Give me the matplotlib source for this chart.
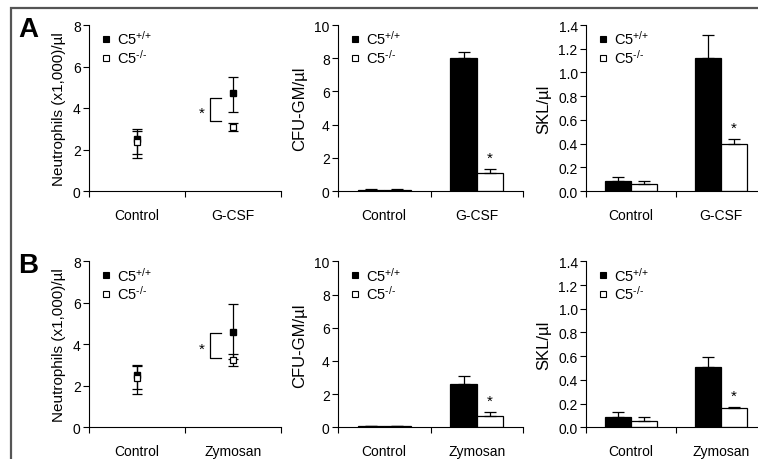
import numpy as np
import matplotlib
matplotlib.use('Agg')
import matplotlib.pyplot as plt
from matplotlib.lines import Line2D
from matplotlib.patches import Rectangle

plt.rcParams['font.family'] = ['Liberation Sans', 'DejaVu Sans']
plt.rcParams['mathtext.fontset'] = 'custom'
plt.rcParams['mathtext.rm'] = 'Liberation Sans'
plt.rcParams['mathtext.default'] = 'regular'

# ---- data ----
groups_a = ['Control', 'G-CSF']
groups_b = ['Control', 'Zymosan']
legend_labels = [r'C5$^{\text{+/+}}$', r'C5$^{\text{-/-}}$']

# neutrophils (x1,000)/ul, mean with lower / upper error
neut_a_wt = [2.5, 4.7]
neut_a_wt_lo = [0.9, 0.88]
neut_a_wt_hi = [0.5, 0.8]
neut_a_ko = [2.35, 3.1]
neut_a_ko_lo = [0.57, 0.2]
neut_a_ko_hi = [0.55, 0.2]
neut_a_bracket = [4.5, 3.35]

neut_b_wt = [2.5, 4.6]
neut_b_wt_lo = [0.9, 1.33]
neut_b_wt_hi = [0.5, 1.33]
neut_b_ko = [2.4, 3.25]
neut_b_ko_lo = [0.55, 0.3]
neut_b_ko_hi = [0.55, 0.3]
neut_b_bracket = [4.55, 3.35]

# CFU-GM/ul
cfu_a_wt = [0.08, 8.0]
cfu_a_wt_err = [0.04, 0.35]
cfu_a_ko = [0.08, 1.08]
cfu_a_ko_err = [0.02, 0.25]
cfu_b_wt = [0.05, 2.6]
cfu_b_wt_err = [0.05, 0.48]
cfu_b_ko = [0.05, 0.7]
cfu_b_ko_err = [0.02, 0.2]

# SKL/ul
skl_a_wt = [0.082, 1.125]
skl_a_wt_err = [0.04, 0.19]
skl_a_ko = [0.059, 0.40]
skl_a_ko_err = [0.025, 0.035]
skl_b_wt = [0.09, 0.505]
skl_b_wt_err = [0.035, 0.09]
skl_b_ko = [0.056, 0.163]
skl_b_ko_err = [0.028, 0.005]

neut_ticks = [0, 2, 4, 6, 8]
cfu_ticks = [0, 2, 4, 6, 8, 10]
skl_ticks = [0.0, 0.2, 0.4, 0.6, 0.8, 1.0, 1.2, 1.4]

W, H = 758.0, 460.0
fig = plt.figure(figsize=(W / 100, H / 100), dpi=100)

# grey frame round the figure (cut at right and bottom)
fig.patches.append(Rectangle((10.5 / W, -0.1), 1.2, 1 - 9 / H + 0.1, transform=fig.transFigure,
                             fill=False, edgecolor='#555555', linewidth=1.6))


def add_ax(left, right, top, bottom):
    return fig.add_axes([left / W, 1 - bottom / H, (right - left) / W, (bottom - top) / H])


def style(ax, groups, ticks, fmt, ylabel, ylabel_size):
    for s in ['top', 'right']:
        ax.spines[s].set_visible(False)
    for s in ['left', 'bottom']:
        ax.spines[s].set_linewidth(0.8)
    ax.set_xlim(-0.5, 1.5)
    ax.set_ylim(ticks[0], ticks[-1])
    ax.set_yticks(ticks)
    ax.set_yticklabels([fmt.format(t) for t in ticks])
    ax.set_xticks([0, 1])
    ax.set_xticklabels(groups)
    ax.set_xticks([-0.5, 0.5, 1.5], minor=True)
    ax.tick_params(axis='x', which='major', length=0, pad=12, labelsize=10)
    ax.tick_params(axis='x', which='minor', length=4, width=0.8, direction='out')
    ax.tick_params(axis='y', length=4, width=0.8, direction='out', labelsize=10, pad=2)
    ax.set_ylabel(ylabel, fontsize=ylabel_size, labelpad=5)
    handles = [Line2D([], [], ls='none', marker='s', mfc='black', mec='black', ms=5, mew=0.8),
               Line2D([], [], ls='none', marker='s', mfc='white', mec='black', ms=5, mew=0.8)]
    ax.legend(handles, legend_labels, loc='upper left', bbox_to_anchor=(0.06, 0.975), frameon=False,
              fontsize=10.5, handlelength=0.8, handletextpad=0.35, labelspacing=0.05,
              borderpad=0, borderaxespad=0)


def neut_panel(ax, groups, wt, wt_lo, wt_hi, ko, ko_lo, ko_hi, bracket):
    x = np.arange(len(groups))
    ax.errorbar(x, wt, yerr=[wt_lo, wt_hi], fmt='s', mfc='black', mec='black', ms=5,
                ecolor='black', elinewidth=0.9, capsize=3.5, capthick=0.9)
    ax.errorbar(x, ko, yerr=[ko_lo, ko_hi], fmt='s', mfc='white', mec='black', ms=5, mew=0.9,
                ecolor='black', elinewidth=0.9, capsize=3.5, capthick=0.9)
    bx0, bx1 = x[1] - 0.24, x[1] - 0.13
    ax.plot([bx1, bx0, bx0, bx1], [bracket[0], bracket[0], bracket[1], bracket[1]],
            color='black', lw=0.9)
    ax.text(x[1] - 0.33, np.mean(bracket) - 0.15, '*', ha='center', va='center', fontsize=11)
    style(ax, groups, neut_ticks, '{:g}', 'Neutrophils (x1,000)/µl', 11)


def bar_panel(ax, groups, wt, wt_err, ko, ko_err, ticks, fmt, ylabel):
    x = np.arange(len(groups))
    w = 0.285
    ax.bar(x - w / 2, wt, w, color='black', edgecolor='black', linewidth=0.9)
    ax.bar(x + w / 2, ko, w, color='white', edgecolor='black', linewidth=0.9)
    ax.errorbar(x - w / 2, wt, yerr=[np.zeros(len(x)), wt_err], fmt='none', ecolor='black',
                elinewidth=0.9, capsize=4, capthick=0.9)
    ax.errorbar(x + w / 2, ko, yerr=[np.zeros(len(x)), ko_err], fmt='none', ecolor='black',
                elinewidth=0.9, capsize=4, capthick=0.9)
    ax.annotate('*', (x[1] + w / 2, ko[1] + ko_err[1]), xytext=(0, 3), textcoords='offset points',
                ha='center', va='bottom', fontsize=11)
    style(ax, groups, ticks, fmt, ylabel, 12)


cols = [(89, 281), (338, 523), (586, 766)]
rows = [(26, 192), (262.3, 428.3)]

# row A
ax = add_ax(cols[0][0], cols[0][1], *rows[0])
neut_panel(ax, groups_a, neut_a_wt, neut_a_wt_lo, neut_a_wt_hi, neut_a_ko, neut_a_ko_lo, neut_a_ko_hi,
           neut_a_bracket)
ax = add_ax(cols[1][0], cols[1][1], *rows[0])
bar_panel(ax, groups_a, cfu_a_wt, cfu_a_wt_err, cfu_a_ko, cfu_a_ko_err, cfu_ticks, '{:g}', 'CFU-GM/µl')
ax = add_ax(cols[2][0], cols[2][1], *rows[0])
bar_panel(ax, groups_a, skl_a_wt, skl_a_wt_err, skl_a_ko, skl_a_ko_err, skl_ticks, '{:.1f}', 'SKL/µl')

# row B
ax = add_ax(cols[0][0], cols[0][1], *rows[1])
neut_panel(ax, groups_b, neut_b_wt, neut_b_wt_lo, neut_b_wt_hi, neut_b_ko, neut_b_ko_lo, neut_b_ko_hi,
           neut_b_bracket)
ax = add_ax(cols[1][0], cols[1][1], *rows[1])
bar_panel(ax, groups_b, cfu_b_wt, cfu_b_wt_err, cfu_b_ko, cfu_b_ko_err, cfu_ticks, '{:g}', 'CFU-GM/µl')
ax = add_ax(cols[2][0], cols[2][1], *rows[1])
bar_panel(ax, groups_b, skl_b_wt, skl_b_wt_err, skl_b_ko, skl_b_ko_err, skl_ticks, '{:.1f}', 'SKL/µl')

fig.text(18 / W, 1 - 37 / H, 'A', fontsize=20, fontweight='bold', ha='left', va='baseline')
fig.text(18 / W, 1 - 273 / H, 'B', fontsize=20, fontweight='bold', ha='left', va='baseline')

fig.savefig('out.png', dpi=100, facecolor='white')
